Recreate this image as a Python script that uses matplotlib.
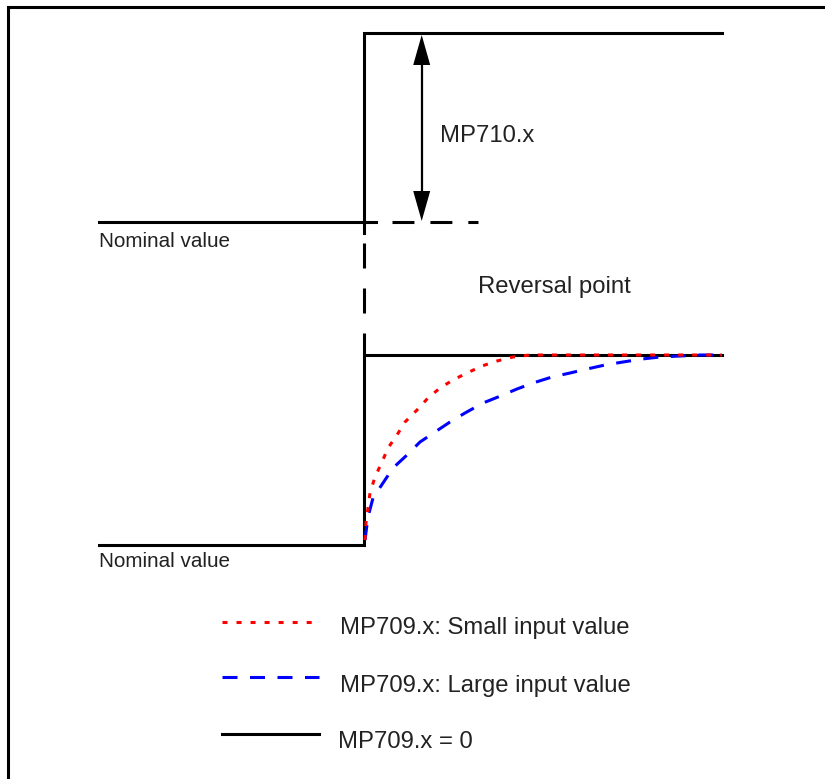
import matplotlib

matplotlib.use("Agg")
import matplotlib.pyplot as plt

# Diagram drawn in pixel-like units: x to the right, y downwards.
W, H = 825, 779

# Step edge (reversal point) and the levels of the two sketches
STEP_X = 364
TOP_LEVEL, UPPER_NOMINAL = 33, 222
PLATEAU, LOWER_NOMINAL = 355, 545
NOMINAL_START, RIGHT_END = 99, 722

# Curves (lower sketch)
RED_X = [365, 366, 370, 375, 382, 388, 397, 405, 417, 428, 440, 453, 467,
         482, 497, 513, 530, 722]
RED_Y = [540, 523, 493, 477, 462, 448, 435, 422, 410, 398, 388, 380, 373,
         366, 361, 357, 355, 355]
BLUE_X = [365, 368, 373, 383, 393, 407, 420, 435, 450, 465, 483, 498, 517,
          533, 552, 570, 587, 605, 623, 642, 660, 680, 700, 723]
BLUE_Y = [540, 517, 498, 483, 468, 455, 442, 432, 422, 413, 403, 397, 389,
          383, 377, 373, 369, 365, 362, 359, 357, 356, 355, 355]

LEGEND_LABELS = ["MP709.x: Small input value", "MP709.x: Large input value",
                 "MP709.x = 0"]

RED, BLUE, INK, TXT = "#ff0000", "#0000ff", "#000000", "#222222"
LW = 2.2
plt.rcParams["lines.scale_dashes"] = False
plt.rcParams["font.family"] = ["Liberation Sans", "DejaVu Sans"]

DOT = (0, (3.6, 6.5))
DASH = (0, (10.8, 9.0))

fig = plt.figure(figsize=(W / 100, H / 100), dpi=100)
ax = fig.add_axes([0, 0, 1, 1])
ax.set_xlim(0, W)
ax.set_ylim(H, 0)
ax.axis("off")

# frame
ax.plot([8, 8, W], [H, 7, 7], color=INK, lw=LW, solid_joinstyle="miter")

# upper sketch: nominal value, step up by MP710.x
ax.plot([NOMINAL_START, STEP_X + 12], [UPPER_NOMINAL] * 2, color=INK, lw=LW)
ax.plot([392, 478], [UPPER_NOMINAL] * 2, color=INK, lw=LW,
        linestyle=(0, (15.8, 11.5)))
ax.plot([STEP_X, STEP_X, RIGHT_END], [UPPER_NOMINAL + 11, TOP_LEVEL, TOP_LEVEL],
        color=INK, lw=LW, solid_joinstyle="miter")
ax.plot([STEP_X, STEP_X], [243, PLATEAU], color=INK, lw=LW,
        linestyle=(0, (18.0, 14.4)))

# dimension arrow
AX_X = 421.7
ax.plot([AX_X, AX_X], [TOP_LEVEL + 20, UPPER_NOMINAL - 20], color=INK, lw=1.6)
hw, hl = 8.5, 30
ax.fill([AX_X, AX_X - hw, AX_X + hw], [TOP_LEVEL + 2, TOP_LEVEL + 2 + hl, TOP_LEVEL + 2 + hl],
        color=INK, lw=0)
ax.fill([AX_X, AX_X - hw, AX_X + hw], [UPPER_NOMINAL - 1, UPPER_NOMINAL - 1 - hl,
                                       UPPER_NOMINAL - 1 - hl], color=INK, lw=0)

# lower sketch
ax.plot([NOMINAL_START, STEP_X, STEP_X, RIGHT_END],
        [LOWER_NOMINAL, LOWER_NOMINAL, PLATEAU, PLATEAU],
        color=INK, lw=LW, solid_joinstyle="miter")
ax.plot(BLUE_X, BLUE_Y, color=BLUE, lw=LW, linestyle=DASH)
ax.plot(RED_X, RED_Y, color=RED, lw=LW, linestyle=DOT)

# texts
FS = 17.2
ax.text(440, 141.7, "MP710.x", fontsize=FS, color=TXT, va="baseline")
ax.text(478, 293.3, "Reversal point", fontsize=FS, color=TXT, va="baseline")
for yb in (246.7, 566.7):
    ax.text(NOMINAL_START, yb, "Nominal value", fontsize=14.9, color=TXT,
            va="baseline")

# legend
styles = [(RED, DOT), (BLUE, DASH), (INK, "-")]
line_y = [622, 677, 734]
text_y = [634, 691.7, 747.7]
text_x = [340, 340, 338]
for (c, ls), ly, ty, tx, lab in zip(styles, line_y, text_y, text_x, LEGEND_LABELS):
    ax.plot([222, 319], [ly, ly], color=c, lw=LW, linestyle=ls)
    ax.text(tx, ty, lab, fontsize=FS, color=TXT, va="baseline")

fig.savefig("out.png", dpi=100, facecolor="white")
